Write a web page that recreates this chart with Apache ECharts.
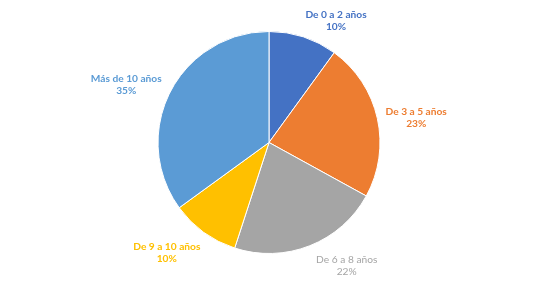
<!DOCTYPE html>
<html><head><meta charset="utf-8">
<script src="https://cdn.jsdelivr.net/npm/echarts@6/dist/echarts.min.js"></script>
<style>html,body{margin:0;padding:0;background:#fff}#c{width:538px;height:286px}</style>
</head><body><div id="c"></div>
<script>
const categories = ['De 0 a 2 años','De 3 a 5 años','De 6 a 8 años','De 9 a 10 años','Más de 10 años'];
const values = [10, 23, 22, 10, 35];
const colors = ['#4472C4','#ED7D31','#A5A5A5','#FFC000','#5B9BD5'];
const weights = ['bold','bold','normal','bold','bold'];
const labelNudgeX = [-6, -6.5, -2.5, 7.5, 5.5];
const labelNudgeY = [-6.5, 2, 10.5, 12.5, -3];
const chart = echarts.init(document.getElementById('c'));
chart.setOption({
  animation: false,
  series: [{
    type: 'pie',
    center: [269, 142.5],
    radius: 111,
    startAngle: 90,
    clockwise: true,
    avoidLabelOverlap: false,
    itemStyle: { borderColor: '#fff', borderWidth: 1 },
    label: {
      show: true,
      position: 'outside',
      formatter: '{b}\n{c}%',
      fontFamily: 'Lato, "Open Sans", sans-serif',
      fontSize: 10.2,
      lineHeight: 12
    },
    labelLine: { show: false, length: 10, length2: 0 },
    labelLayout: function (p) {
      const r = p.labelRect;
      const right = r.x + r.width / 2 > 269;
      return {
        align: 'center',
        dx: (right ? r.width / 2 : -r.width / 2) + labelNudgeX[p.dataIndex],
        dy: labelNudgeY[p.dataIndex]
      };
    },
    emphasis: { disabled: true },
    data: categories.map((n, i) => ({
      name: n, value: values[i],
      itemStyle: { color: colors[i] },
      label: { color: colors[i], fontWeight: weights[i] }
    }))
  }]
});
</script></body></html>
